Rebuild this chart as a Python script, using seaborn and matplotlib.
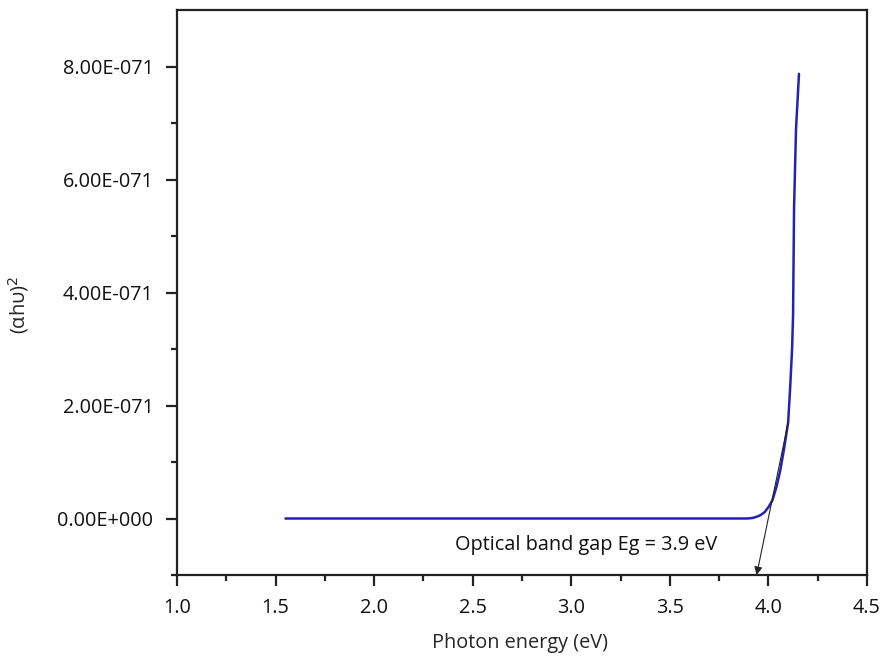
import matplotlib
matplotlib.use("Agg")
import matplotlib.pyplot as plt
import seaborn as sns
import numpy as np
import pandas as pd
from matplotlib.ticker import FuncFormatter, MultipleLocator, FixedLocator

# ---- data ----
photon_energy = [1.55, 2.0, 2.5, 3.0, 3.5, 3.80, 3.85, 3.88, 3.90, 3.92, 3.94, 3.96,
                 3.98, 4.00, 4.02, 4.04, 4.06, 4.08, 4.10, 4.11, 4.12, 4.125, 4.13,
                 4.14, 4.155]
alpha_hv_sq_e71 = [0, 0, 0, 0, 0, 0, 0.0, 0.0, 0.002, 0.01, 0.03, 0.06,
                   0.11, 0.2, 0.32, 0.55, 0.85, 1.25, 1.7, 2.3, 3.0, 3.6, 5.5,
                   6.9, 7.87]
scale = 1e-71
y_major_e71 = [0, 2, 4, 6, 8]
annot_text = "Optical band gap Eg = 3.9 eV"
tangent_top = (4.10, 1.7)
tangent_bottom = (3.94, -1.0)

df = pd.DataFrame({"x": photon_energy, "y": np.array(alpha_hv_sq_e71) * scale})

sns.set_style("ticks")
plt.rcParams['font.family'] = ['Open Sans', 'DejaVu Sans']

fig = plt.figure(figsize=(8.81, 6.62), dpi=100)
ax = fig.add_axes([177/881, 1-575/662, (867-177)/881, (575-10)/662])

sns.lineplot(data=df, x="x", y="y", ax=ax, color="#2222b4", linewidth=1.8,
             estimator=None, sort=False)

ax.set_xlim(1.0, 4.5)
ax.set_ylim(-1e-71, 9e-71)

ax.xaxis.set_major_locator(MultipleLocator(0.5))
ax.xaxis.set_minor_locator(MultipleLocator(0.25))
ax.yaxis.set_major_locator(FixedLocator([v * scale for v in y_major_e71]))
ax.yaxis.set_minor_locator(FixedLocator([v * scale for v in [-1, 1, 3, 5, 7]]))

def yfmt(v, pos):
    if abs(v) < 1e-90:
        return "0.00E+000"
    m, e = f"{v:.2E}".split("E")
    ex = int(e)
    return f"{m}E{'+' if ex >= 0 else '-'}{abs(ex):03d}"

ax.yaxis.set_major_formatter(FuncFormatter(yfmt))
ax.xaxis.set_major_formatter(FuncFormatter(lambda v, p: f"{v:.1f}"))

for s in ax.spines.values():
    s.set_linewidth(1.6)
    s.set_color("#222222")
ax.tick_params(axis="both", which="major", direction="out", length=8, width=1.6,
               labelsize=14.3, colors="#222222", labelcolor="#111111")
ax.tick_params(axis="y", which="major", pad=9)
ax.tick_params(axis="x", which="major", pad=8.5)
ax.tick_params(axis="both", which="minor", direction="out", length=4, width=1.6,
               colors="#222222")
ax.tick_params(top=False, right=False, which="both")

ax.set_xlabel("Photon energy (eV)", fontsize=14.3)
ax.xaxis.set_label_coords(0.497, (575-633)/565)
ax.set_ylabel("(αhυ)$^2$", fontsize=14.5)
ax.yaxis.set_label_coords((31-177)/690, (575-305)/565)

ax.annotate("", xy=(tangent_bottom[0], tangent_bottom[1] * scale),
            xytext=(tangent_top[0], tangent_top[1] * scale),
            arrowprops=dict(arrowstyle="-|>", color="#222222", lw=0.8,
                            mutation_scale=12, shrinkA=0, shrinkB=0))
ax.text(2.41, -0.47 * scale, annot_text, fontsize=14.3, va="center", ha="left",
        color="#111111")

fig.savefig("out.png", dpi=100)
